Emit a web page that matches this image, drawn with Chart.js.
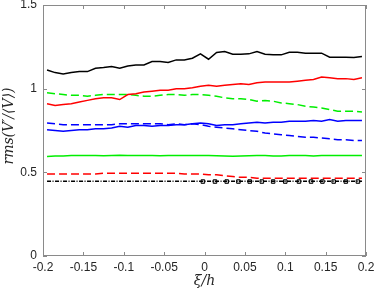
<!DOCTYPE html>
<html>
<head>
<meta charset="utf-8">
<script src="https://cdn.jsdelivr.net/npm/chart.js@4.4.0/dist/chart.umd.min.js"></script>
<style>
html, body { margin: 0; padding: 0; background: #fff; }
#wrap { width: 374px; height: 293px; }
</style>
</head>
<body>
<div id="wrap"><canvas id="grafico"></canvas></div>
<script>
// posições xi/h
const xs = [-0.195, -0.185, -0.175, -0.165, -0.155, -0.145, -0.135, -0.125, -0.115, -0.105,
  -0.095, -0.085, -0.075, -0.065, -0.055, -0.045, -0.035, -0.025, -0.015, -0.005,
  0.005, 0.015, 0.025, 0.035, 0.045, 0.055, 0.065, 0.075, 0.085, 0.095,
  0.105, 0.115, 0.125, 0.135, 0.145, 0.155, 0.165, 0.175, 0.185, 0.195];

const pretoCheio = [1.112, 1.096, 1.088, 1.096, 1.102, 1.102, 1.122, 1.126, 1.132, 1.122,
  1.136, 1.142, 1.142, 1.162, 1.162, 1.156, 1.172, 1.172, 1.182, 1.208,
  1.176, 1.216, 1.222, 1.206, 1.206, 1.208, 1.222, 1.206, 1.202, 1.202,
  1.218, 1.218, 1.212, 1.212, 1.212, 1.188, 1.188, 1.188, 1.186, 1.192];

const vermelhoCheio = [0.91, 0.90, 0.905, 0.91, 0.92, 0.93, 0.94, 0.945, 0.945, 0.935,
  0.965, 0.97, 0.98, 0.985, 0.99, 0.99, 1.0, 1.0, 1.005, 1.015,
  1.02, 1.015, 1.02, 1.025, 1.03, 1.025, 1.035, 1.04, 1.04, 1.04,
  1.04, 1.045, 1.05, 1.055, 1.07, 1.065, 1.06, 1.06, 1.055, 1.065];

const verdeTracejado = [0.975, 0.97, 0.965, 0.96, 0.96, 0.955, 0.96, 0.965, 0.965, 0.965,
  0.965, 0.96, 0.955, 0.955, 0.96, 0.965, 0.965, 0.96, 0.965, 0.965,
  0.96, 0.955, 0.945, 0.94, 0.94, 0.935, 0.925, 0.93, 0.925, 0.915,
  0.91, 0.905, 0.895, 0.89, 0.885, 0.875, 0.865, 0.865, 0.865, 0.86];

const azulCheio = [0.755, 0.75, 0.745, 0.75, 0.755, 0.755, 0.76, 0.76, 0.765, 0.775,
  0.77, 0.78, 0.78, 0.775, 0.78, 0.78, 0.785, 0.785, 0.79, 0.795,
  0.79, 0.78, 0.785, 0.785, 0.79, 0.795, 0.8, 0.795, 0.8, 0.8,
  0.805, 0.805, 0.805, 0.81, 0.805, 0.815, 0.805, 0.81, 0.81, 0.81];

const azulTracejado = [0.795, 0.79, 0.785, 0.785, 0.785, 0.785, 0.785, 0.785, 0.785, 0.79,
  0.79, 0.79, 0.79, 0.79, 0.79, 0.785, 0.79, 0.785, 0.79, 0.785,
  0.775, 0.77, 0.765, 0.76, 0.755, 0.75, 0.745, 0.735, 0.73, 0.725,
  0.72, 0.715, 0.71, 0.71, 0.705, 0.70, 0.695, 0.695, 0.69, 0.69];

const verdeCheio = [0.595, 0.597, 0.598, 0.6, 0.6, 0.601, 0.6, 0.599, 0.6, 0.602,
  0.6, 0.601, 0.6, 0.6, 0.599, 0.6, 0.6, 0.6, 0.6, 0.6,
  0.6, 0.599, 0.597, 0.596, 0.597, 0.599, 0.6, 0.6, 0.598, 0.598,
  0.6, 0.601, 0.6, 0.598, 0.6, 0.6, 0.601, 0.6, 0.6, 0.6];

const vermelhoTracejado = [0.49, 0.49, 0.49, 0.49, 0.49, 0.49, 0.49, 0.495, 0.495, 0.495,
  0.495, 0.495, 0.495, 0.495, 0.495, 0.495, 0.495, 0.49, 0.49, 0.49,
  0.485, 0.485, 0.48, 0.475, 0.47, 0.47, 0.465, 0.465, 0.465, 0.465,
  0.465, 0.465, 0.465, 0.465, 0.465, 0.465, 0.465, 0.465, 0.465, 0.465];

const pretoTracoPonto = [0.447, 0.447, 0.447, 0.447, 0.447, 0.447, 0.447, 0.447, 0.447, 0.447,
  0.447, 0.447, 0.447, 0.447, 0.447, 0.447, 0.447, 0.447, 0.447, 0.447,
  0.447, 0.447, 0.447, 0.447, 0.447, 0.447, 0.447, 0.447, 0.447, 0.447,
  0.447, 0.447, 0.447, 0.447, 0.447, 0.447, 0.447, 0.447, 0.447, 0.447];

// marcadores quadrados no lado direito
const marcadoresX = [-0.002, 0.013, 0.0275, 0.042, 0.056, 0.071, 0.085, 0.1, 0.117, 0.132, 0.146, 0.16, 0.175, 0.19];
const marcadoresY = [0.445, 0.445, 0.445, 0.445, 0.445, 0.445, 0.445, 0.445, 0.445, 0.445, 0.445, 0.445, 0.445, 0.445];

const xTicks = [-0.2, -0.15, -0.1, -0.05, 0, 0.05, 0.1, 0.15, 0.2];
const xLabels = ['-0.2', '-0.15', '-0.1', '-0.05', '0', '0.05', '0.1', '0.15', '0.2'];
const yTicks = [0, 0.5, 1, 1.5];
const yLabels = ['0', '0.5', '1', '1.5'];
const tituloX = 'ξ/h';
const tituloY = 'rms(V′/⟨V⟩)';

const pts = (xv, yv) => xv.map((x, i) => ({ x: x, y: yv[i] }));

const linha = (dados, cor, tracejado) => ({
    data: pts(xs, dados),
    borderColor: cor,
    borderWidth: 1.5,
    borderDash: tracejado || [],
    pointRadius: 0,
    fill: false,
    tension: 0
});

// caixa estilo MATLAB com ticks para dentro + títulos dos eixos
const caixa = {
    id: 'caixa',
    afterDatasetsDraw(chart) {
        const { ctx, chartArea: a, scales: { x, y } } = chart;
        ctx.save();
        ctx.strokeStyle = '#8a8a8a';
        ctx.lineWidth = 1;
        ctx.strokeRect(Math.round(a.left) + 0.5, Math.round(a.top) + 0.5,
            Math.round(a.width) - 1, Math.round(a.height) - 1);
        ctx.beginPath();
        xTicks.forEach(v => {
            const px = Math.round(x.getPixelForValue(v)) + 0.5;
            ctx.moveTo(px, a.bottom); ctx.lineTo(px, a.bottom - 4);
            ctx.moveTo(px, a.top); ctx.lineTo(px, a.top + 4);
        });
        yTicks.forEach(v => {
            const py = Math.round(y.getPixelForValue(v)) + 0.5;
            ctx.moveTo(a.left, py); ctx.lineTo(a.left + 4, py);
            ctx.moveTo(a.right, py); ctx.lineTo(a.right - 4, py);
        });
        ctx.stroke();

        ctx.fillStyle = '#262626';
        ctx.font = 'italic 14px "DejaVu Serif"';
        ctx.textAlign = 'center';
        ctx.textBaseline = 'middle';
        ctx.fillText(tituloX, (a.left + a.right) / 2, 281);
        ctx.translate(9, 126);
        ctx.rotate(-Math.PI / 2);
        ctx.fillText(tituloY, 0, 0);
        ctx.restore();
    }
};

new Chart(document.getElementById('grafico').getContext('2d'), {
    type: 'line',
    data: {
        datasets: [
            linha(pretoCheio, '#000000'),
            linha(vermelhoCheio, '#ff0000'),
            linha(verdeTracejado, '#00ee00', [8, 4]),
            linha(azulCheio, '#0000ff'),
            linha(azulTracejado, '#0000ff', [8, 4]),
            linha(verdeCheio, '#00ee00'),
            linha(vermelhoTracejado, '#ff0000', [8, 4]),
            linha(pretoTracoPonto, '#000000', [4, 1.5, 1, 1.5]),
            {
                data: pts(marcadoresX, marcadoresY),
                showLine: false,
                pointStyle: 'rect',
                pointRadius: 2.5,
                borderWidth: 1,
                pointBorderColor: '#000000',
                pointBackgroundColor: '#cccccc'
            }
        ]
    },
    options: {
        responsive: true,
        maintainAspectRatio: false,
        animation: false,
        events: [],
        layout: { padding: { left: 0, right: 8, top: 5, bottom: 0 } },
        plugins: { legend: { display: false }, tooltip: { enabled: false } },
        scales: {
            x: {
                type: 'linear',
                min: -0.2,
                max: 0.2,
                grid: { display: false, drawTicks: false, tickLength: 0 },
                border: { display: false },
                afterBuildTicks: s => { s.ticks = xTicks.map(v => ({ value: v })); },
                afterFit: s => { s.height = 37; s.paddingLeft = 0; s.paddingRight = 0; },
                ticks: {
                    maxRotation: 0,
                    autoSkip: false,
                    padding: 4,
                    color: '#262626',
                    font: { family: 'Liberation Sans', size: 12 },
                    callback: v => xLabels[xTicks.indexOf(v)]
                }
            },
            y: {
                min: 0,
                max: 1.5,
                grid: { display: false, drawTicks: false, tickLength: 0 },
                border: { display: false },
                afterBuildTicks: s => { s.ticks = yTicks.map(v => ({ value: v })); },
                afterFit: s => { s.width = 43; s.paddingTop = 0; s.paddingBottom = 0; },
                ticks: {
                    padding: 6,
                    color: '#262626',
                    font: { family: 'Liberation Sans', size: 12 },
                    callback: v => yLabels[yTicks.indexOf(v)]
                }
            }
        }
    },
    plugins: [caixa]
});
</script>
</body>
</html>
